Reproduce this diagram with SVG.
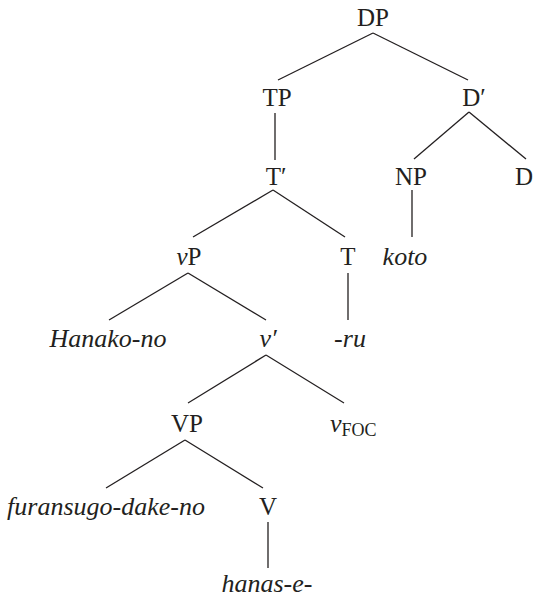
<svg xmlns="http://www.w3.org/2000/svg" width="534" height="598" viewBox="0 0 534 598">
<style>
text{font-family:"Liberation Serif","Times New Roman",serif;fill:#231f20;text-anchor:middle}
.r{font-size:25px}
.i{font-size:26px;font-style:italic}
.sub{font-size:18px;font-style:normal}
#edges line{stroke:#231f20;stroke-width:1.3}
</style>
<rect width="534" height="598" fill="#fff"/>
<g id="edges">
<line x1="373" y1="33" x2="278" y2="80"/>
<line x1="373" y1="33" x2="468" y2="80"/>
<line x1="275" y1="113" x2="275" y2="160"/>
<line x1="469" y1="112" x2="414" y2="159"/>
<line x1="469" y1="112" x2="526" y2="159"/>
<line x1="273" y1="190" x2="193" y2="237"/>
<line x1="273" y1="190" x2="345" y2="237"/>
<line x1="412" y1="190" x2="412" y2="237"/>
<line x1="188" y1="273" x2="109" y2="320"/>
<line x1="188" y1="273" x2="266" y2="320"/>
<line x1="348" y1="273" x2="348" y2="320"/>
<line x1="266" y1="355" x2="188" y2="403"/>
<line x1="266" y1="355" x2="344" y2="403"/>
<line x1="185" y1="440" x2="106" y2="488"/>
<line x1="185" y1="440" x2="263" y2="488"/>
<line x1="268" y1="522" x2="268" y2="568"/>
</g>
<g id="DP"><text class="r" x="373" y="26">DP</text></g>
<g id="TP"><text class="r" x="277" y="106">TP</text></g>
<g id="Dbar"><text class="r" x="474" y="106">D′</text></g>
<g id="Tbar"><text class="r" x="276" y="185">T′</text></g>
<g id="NP"><text class="r" x="411" y="185">NP</text></g>
<g id="D"><text class="r" x="533" y="185" style="text-anchor:end">D</text></g>
<g id="vP"><text class="r" x="189" y="265"><tspan font-style="italic">v</tspan>P</text></g>
<g id="T"><text class="r" x="348" y="265">T</text></g>
<g id="koto"><text class="i" x="405" y="265">koto</text></g>
<g id="Hanako-no"><text class="i" x="108" y="347">Hanako-no</text></g>
<g id="vbar"><text class="i" x="268" y="347">v′</text></g>
<g id="ru"><text class="i" x="350" y="347">-ru</text></g>
<g id="VP"><text class="r" x="187" y="432">VP</text></g>
<g id="vFOC"><text class="i" x="330" y="432" style="text-anchor:start">v<tspan class="sub" dy="4">FOC</tspan></text></g>
<g id="furansugo-dake-no"><text class="i" x="106" y="515">furansugo-dake-no</text></g>
<g id="V"><text class="r" x="268" y="515">V</text></g>
<g id="hanas-e"><text class="i" x="267" y="592">hanas-e-</text></g>
</svg>
